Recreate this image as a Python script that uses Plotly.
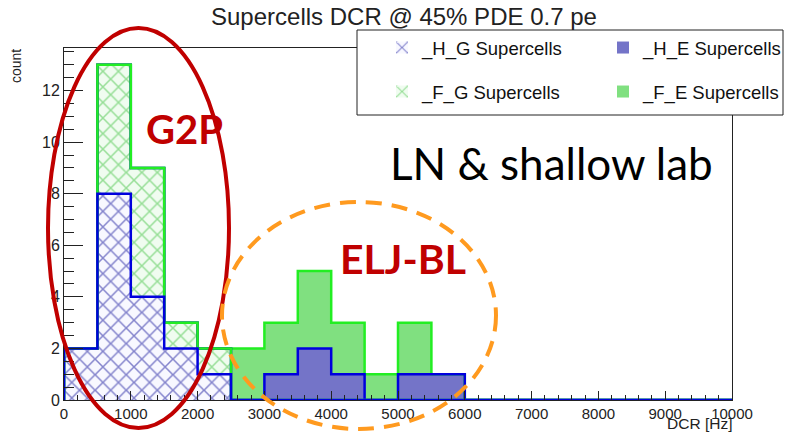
import numpy as np
import plotly.graph_objects as go

# ---------------- data ----------------
bin_width = 500
bin_edges = list(range(0, 10001, 500))          # 0 .. 10000 Hz, 20 bins
h_g = [2, 8, 4, 2, 1, 0, 0, 0, 0, 0, 0, 0, 0, 0, 0, 0, 0, 0, 0, 0]
f_g = [0, 5, 5, 1, 1, 0, 0, 0, 0, 0, 0, 0, 0, 0, 0, 0, 0, 0, 0, 0]
h_e = [0, 0, 0, 0, 0, 0, 1, 2, 1, 0, 1, 1, 0, 0, 0, 0, 0, 0, 0, 0]
f_e = [0, 0, 0, 0, 0, 2, 2, 3, 2, 1, 2, 0, 0, 0, 0, 0, 0, 0, 0, 0]
series_names = ["_H_G Supercells", "_F_G Supercells", "_H_E Supercells", "_F_E Supercells"]
x_ticks = [0, 1000, 2000, 3000, 4000, 5000, 6000, 7000, 8000, 9000, 10000]
y_ticks = [0, 2, 4, 6, 8, 10, 12]

# ---------------- layout geometry (pixels) ----------------
W, H = 788, 433
L, R, T, B = 64, 732, 48, 400


def px(x):
    return (x - L) / (R - L)


def py(y):
    return (B - y) / (B - T)


edges = np.array(bin_edges, dtype=float)
centers = (edges[:-1] + edges[1:]) / 2
data = [np.array(h_g), np.array(f_g), np.array(h_e), np.array(f_e)]
cum = np.cumsum(np.vstack(data), axis=0)

BLUE_LINE = "#0000dd"
GREEN_LINE = "#22ee22"
FONT = "Liberation Sans, Arial, sans-serif"

fills = [
    dict(color="#f8f8ff", pattern=dict(shape="x", fgcolor="#10109a", bgcolor="#f8f8ff", size=11, solidity=0.26)),
    dict(color="#f0fcf0", pattern=dict(shape="x", fgcolor="#3cc03c", bgcolor="#f0fcf0", size=11, solidity=0.26)),
    dict(color="#7474c8"),
    dict(color="#80e080"),
]
legends = ["legend", "legend2", "legend", "legend2"]

fig = go.Figure()
for i in range(4):
    m = dict(fills[i])
    m["line"] = dict(width=0)
    fig.add_trace(go.Bar(
        x=centers, y=data[i], width=bin_width, name=series_names[i],
        marker=m, legend=legends[i], showlegend=True, hoverinfo="skip",
    ))

# step outlines, drawn top of stack first (ROOT THStack order)
line_cols = [BLUE_LINE, GREEN_LINE, BLUE_LINE, GREEN_LINE]
for i in [3, 2, 1, 0]:
    tops = cum[i]
    xs = [edges[0]] + list(edges[:-1]) + [edges[-1], edges[-1]]
    ys = [0] + list(tops) + [tops[-1], 0]
    fig.add_trace(go.Scatter(
        x=xs, y=ys, mode="lines", line=dict(shape="hv", color=line_cols[i], width=2.5),
        showlegend=False, hoverinfo="skip",
    ))

leg_common = dict(
    orientation="h", xanchor="left", yanchor="middle",
    bgcolor="rgba(0,0,0,0)", borderwidth=0, font=dict(size=18.5, family=FONT, color="#111"),
    entrywidth=176, entrywidthmode="pixels", traceorder="normal",
)
fig.update_layout(
    width=W, height=H,
    margin=dict(l=L, r=W - R, t=T, b=H - B, pad=0, autoexpand=False),
    paper_bgcolor="white", plot_bgcolor="white",
    barmode="stack", bargap=0,
    font=dict(family=FONT, color="#222222"),
    showlegend=True,
    legend=dict(x=px(382), y=py(48), **leg_common),
    legend2=dict(x=px(382), y=py(92), **leg_common),
)

fig.update_xaxes(
    range=[0, 10000], tickvals=x_ticks, ticktext=[str(v) for v in x_ticks],
    ticks="inside", ticklen=9, tickwidth=1, tickcolor="#222",
    minor=dict(dtick=200, ticks="inside", ticklen=5, tickcolor="#222", showgrid=False),
    showline=True, linecolor="#222", linewidth=1, mirror=True,
    showgrid=False, zeroline=False, tickfont=dict(size=15, family=FONT, color="#222"),
)
fig.update_yaxes(
    range=[0, 13.65], tickvals=y_ticks, ticktext=[str(v) for v in y_ticks],
    ticks="inside", ticklen=19, tickwidth=1, tickcolor="#222",
    minor=dict(dtick=0.5, ticks="inside", ticklen=10, tickcolor="#222", showgrid=False),
    showline=True, linecolor="#222", linewidth=1, mirror=True,
    showgrid=False, zeroline=False, tickfont=dict(size=16, family=FONT, color="#222"),
)

shapes = [
    # legend box
    dict(type="rect", xref="paper", yref="paper", x0=px(357), x1=px(783), y0=py(115), y1=py(30),
         line=dict(color="#222", width=1), fillcolor="white", layer="above"),
    # G2P ellipse
    dict(type="circle", xref="paper", yref="paper", x0=px(48), x1=px(229), y0=py(428), y1=py(28),
         line=dict(color="#c00000", width=4), layer="above"),
    # ELJ-BL dashed ellipse
    dict(type="circle", xref="paper", yref="paper", x0=px(222), x1=px(496), y0=py(429), y1=py(202),
         line=dict(color="#ff9a1f", width=4, dash="16px,10px"), layer="above"),
]
fig.update_layout(shapes=shapes)

annotations = [
    dict(text="Supercells DCR @ 45% PDE 0.7 pe", x=px(404), y=py(17), xref="paper", yref="paper",
         showarrow=False, font=dict(size=24, family=FONT, color="#222"), xanchor="center", yanchor="middle"),
    dict(text="count", x=px(16), y=py(47), xref="paper", yref="paper", textangle=-90,
         showarrow=False, font=dict(size=14, family=FONT, color="#222"), xanchor="center", yanchor="top"),
    dict(text="DCR [Hz]", x=px(733), y=py(433), xref="paper", yref="paper",
         showarrow=False, font=dict(size=15.5, family=FONT, color="#222"), xanchor="right", yanchor="bottom",
         borderpad=0),
    dict(text="<b>G2P</b>", x=px(184), y=py(129), xref="paper", yref="paper",
         showarrow=False, font=dict(size=40, family="Lato, sans-serif", color="#c00000"),
         xanchor="center", yanchor="middle"),
    dict(text="<b>ELJ-BL</b>", x=px(403), y=py(258), xref="paper", yref="paper",
         showarrow=False, font=dict(size=41, family="Lato, sans-serif", color="#c00000"),
         xanchor="center", yanchor="middle"),
    dict(text="LN &amp; shallow lab", x=px(551), y=py(163), xref="paper", yref="paper",
         showarrow=False, font=dict(size=44, family="Lato, sans-serif", color="#000"),
         xanchor="center", yanchor="middle"),
]
fig.update_layout(annotations=annotations)

fig.write_html("out.html")
